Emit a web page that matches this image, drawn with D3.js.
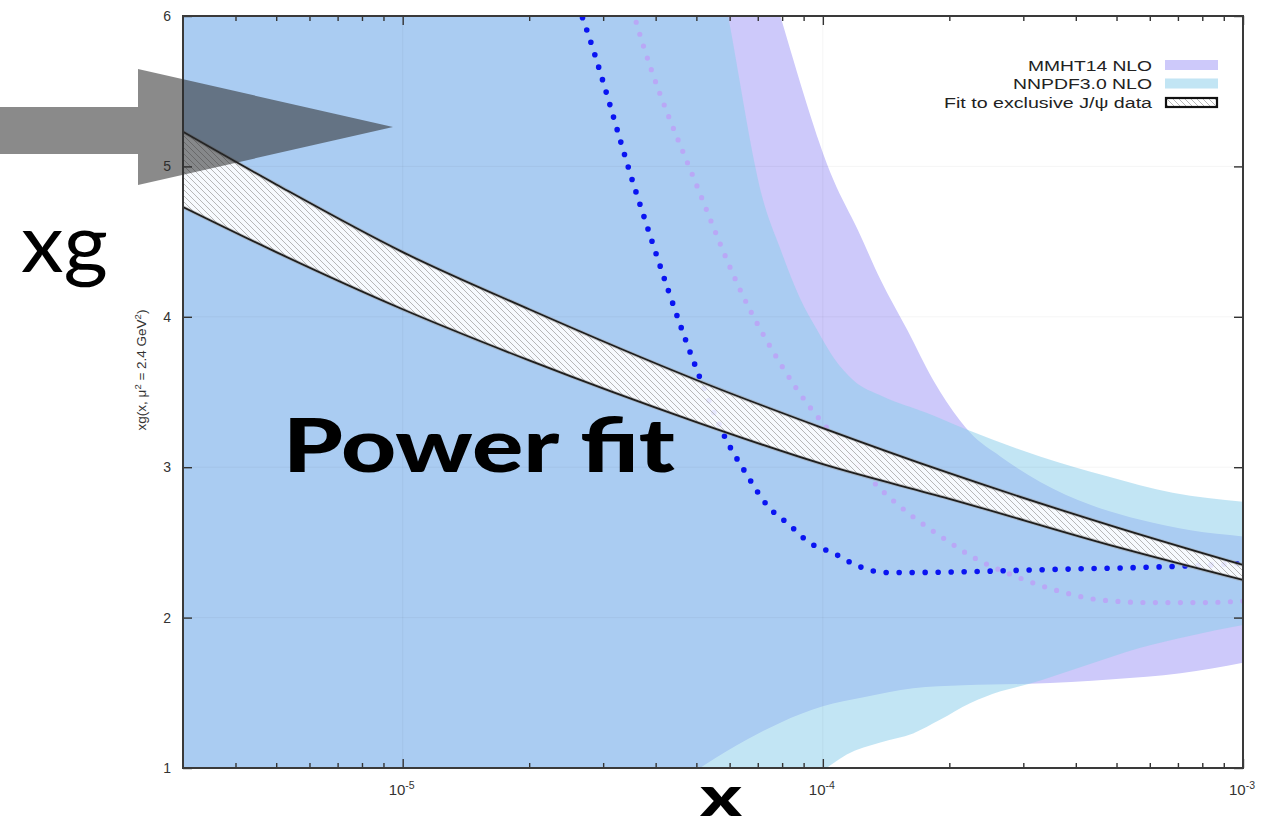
<!DOCTYPE html>
<html>
<head>
<meta charset="utf-8">
<script src="https://cdn.jsdelivr.net/npm/d3@7"></script>
<style>
  html, body { margin: 0; padding: 0; background: #fff; }
  svg { display: block; }
</style>
</head>
<body>
<svg id="chart" width="1285" height="829"></svg>
<script>
// ---- data: [x, xg] pairs ----
const mmhtUpper = [[3e-6, 22], [1e-5, 16], [3e-5, 10.5], [6e-5, 7.2], [7.92e-5, 6.0], [1.06e-4, 4.91],
  [1.21e-4, 4.58], [1.37e-4, 4.25], [1.59e-4, 3.91], [1.83e-4, 3.58], [2.12e-4, 3.31], [2.24e-4, 3.23],
  [2.65e-4, 3.07], [3.3e-4, 2.90], [4.33e-4, 2.75], [5.7e-4, 2.65], [7.5e-4, 2.58], [1e-3, 2.54]];
const mmhtLower = [[3e-6, -1.5], [1e-5, -0.3], [3e-5, 0.5], [5.1e-5, 1.0], [6.6e-5, 1.19], [7.9e-5, 1.30],
  [1.0e-4, 1.41], [1.25e-4, 1.47], [1.64e-4, 1.53], [2.16e-4, 1.55], [3.1e-4, 1.56], [4.9e-4, 1.59],
  [7.1e-4, 1.63], [1e-3, 1.70]];
const nnpdfUpper = [[3e-6, 20], [1e-5, 14], [3e-5, 9.5], [5e-5, 7.1], [5.95e-5, 6.0], [7.2e-5, 4.78],
  [7.9e-5, 4.46], [8.8e-5, 4.13], [9.7e-5, 3.91], [1.06e-4, 3.73], [1.18e-4, 3.58], [1.39e-4, 3.47],
  [1.77e-4, 3.36], [2.2e-4, 3.25], [3.3e-4, 3.07], [4.75e-4, 2.94], [6.8e-4, 2.83], [1e-3, 2.77]];
const nnpdfLower = [[3e-6, -2.5], [3e-5, -0.3], [7e-5, 0.7], [1.02e-4, 1.0], [1.14e-4, 1.09], [1.37e-4, 1.17],
  [1.64e-4, 1.23], [1.9e-4, 1.32], [2.24e-4, 1.43], [2.65e-4, 1.51], [3.1e-4, 1.56], [4.1e-4, 1.67],
  [5.7e-4, 1.80], [7.5e-4, 1.88], [1e-3, 1.95]];
const fitUpper = [[3e-6, 5.23], [5e-6, 4.88], [1e-5, 4.43], [2e-5, 4.05], [5e-5, 3.58], [1e-4, 3.26],
  [2e-4, 2.96], [5e-4, 2.60], [1e-3, 2.35]];
const fitLower = [[3e-6, 4.73], [5e-6, 4.43], [1e-5, 4.05], [2e-5, 3.71], [5e-5, 3.30], [1e-4, 3.02],
  [2e-4, 2.79], [5e-4, 2.47], [1e-3, 2.25]];
const blueCentral = [[2.55e-5, 6.15], [2.67e-5, 6.0], [3.62e-5, 4.80], [5.09e-5, 3.60], [5.87e-5, 3.19],
  [6.56e-5, 2.96], [7.4e-5, 2.74], [8.3e-5, 2.62], [9.27e-5, 2.50], [1.057e-4, 2.43], [1.22e-4, 2.34],
  [1.40e-4, 2.30], [1.62e-4, 2.30], [3.5e-4, 2.32], [6.8e-4, 2.34], [1e-3, 2.36]];
const lavenderCentral = [[3.4e-5, 6.2], [3.56e-5, 6.0], [5.1e-5, 4.82], [6.43e-5, 4.15], [7.92e-5, 3.69],
  [9.43e-5, 3.38], [1.024e-4, 3.26], [1.377e-4, 2.85], [1.623e-4, 2.68], [1.956e-4, 2.52], [2.219e-4, 2.42],
  [2.9e-4, 2.27], [3.61e-4, 2.18], [4.5e-4, 2.12], [6.0e-4, 2.10], [8.0e-4, 2.10], [1e-3, 2.11]];

const xDomain = [3e-6, 1e-3];
const yDomain = [1, 6];
const xMajorTicks = [1e-5, 1e-4, 1e-3];
const xMajorExponents = ["-5", "-4", "-3"];
const yTicks = [1, 2, 3, 4, 5, 6];
const legendLabels = ["MMHT14 NLO", "NNPDF3.0 NLO", "Fit to exclusive J/\u03C8 data"];

// ---- layout ----
const svg = d3.select("#chart");
const L = 183, R = 1243, T = 16, B = 768;
const x = d3.scaleLog().domain(xDomain).range([L, R]);
const y = d3.scaleLinear().domain(yDomain).range([B, T]);

const defs = svg.append("defs");
defs.append("clipPath").attr("id", "plotClip")
  .append("rect").attr("x", L).attr("y", T).attr("width", R - L).attr("height", B - T);

const hatch = defs.append("pattern").attr("id", "hatch")
  .attr("patternUnits", "userSpaceOnUse").attr("width", 6).attr("height", 6);
hatch.append("rect").attr("width", 6).attr("height", 6).attr("fill", "#fff").attr("fill-opacity", 0.9);
hatch.append("path").attr("d", "M0,0L6,6M-1,5L1,7M5,-1L7,1")
  .attr("stroke", "#ababab").attr("stroke-width", 0.85);

const line = d3.line().x(d => x(d[0])).y(d => y(d[1])).curve(d3.curveMonotoneX);
const floorY = y(-40);
function closedDown(arr) {
  const a = arr[0], b = arr[arr.length - 1];
  return line(arr) + `L${x(b[0])},${floorY}L${x(a[0])},${floorY}Z`;
}
function bandPath(upper, lower) { return closedDown(upper) + closedDown(lower); }

const plot = svg.append("g").attr("clip-path", "url(#plotClip)");

// PDF uncertainty bands
const mmhtFill = "rgb(205,201,250)";
const nnpdfFill = "rgb(140,206,234)", nnpdfOpacity = 0.53;
plot.append("path").attr("d", bandPath(mmhtUpper, mmhtLower))
  .attr("fill", mmhtFill).attr("fill-rule", "evenodd");
plot.append("path").attr("d", bandPath(nnpdfUpper, nnpdfLower))
  .attr("fill", nnpdfFill).attr("fill-opacity", nnpdfOpacity).attr("fill-rule", "evenodd");

// faint grid at the major ticks
const grid = plot.append("g").attr("stroke", "rgba(0,0,0,0.045)").attr("stroke-width", 1);
xMajorTicks.forEach(v => grid.append("line").attr("x1", x(v)).attr("x2", x(v)).attr("y1", T).attr("y2", B));
yTicks.forEach(v => grid.append("line").attr("x1", L).attr("x2", R).attr("y1", y(v)).attr("y2", y(v)));

// central values as dotted lines
plot.append("path").attr("d", line(lavenderCentral)).attr("fill", "none")
  .attr("stroke", "#b9a8f6").attr("stroke-width", 5.2).attr("stroke-linecap", "round")
  .attr("stroke-dasharray", "0 12.5");
plot.append("path").attr("d", line(blueCentral)).attr("fill", "none")
  .attr("stroke", "#0a14f2").attr("stroke-width", 5.6).attr("stroke-linecap", "round")
  .attr("stroke-dasharray", "0 13");

// power-law fit band
plot.append("path").attr("d", bandPath(fitUpper, fitLower))
  .attr("fill", "url(#hatch)").attr("fill-rule", "evenodd");
[fitUpper, fitLower].forEach(arr => {
  plot.append("path").attr("d", line(arr)).attr("fill", "none")
    .attr("stroke", "#999").attr("stroke-width", 3.6).attr("stroke-opacity", 0.5);
  plot.append("path").attr("d", line(arr)).attr("fill", "none")
    .attr("stroke", "#1e1e1e").attr("stroke-width", 1.8);
});

// ---- axes (ticks point inward, mirrored on all sides) ----
const minorX = x.ticks().filter(v => v > xDomain[0] && v < xDomain[1] && !xMajorTicks.some(m => Math.abs(m - v) / m < 1e-6));
function styleAxis(g) {
  g.select(".domain").remove();
  g.selectAll(".tick line").attr("stroke", "#333").attr("stroke-width", 1.4);
  g.selectAll(".tick text").remove();
}
svg.append("g").attr("transform", `translate(0,${B})`)
  .call(d3.axisBottom(x).tickValues(minorX).tickSize(-5).tickSizeOuter(0)).call(styleAxis);
svg.append("g").attr("transform", `translate(0,${B})`)
  .call(d3.axisBottom(x).tickValues(xMajorTicks).tickSize(-9).tickSizeOuter(0)).call(styleAxis);
svg.append("g").attr("transform", `translate(0,${T})`)
  .call(d3.axisTop(x).tickValues(minorX).tickSize(-5).tickSizeOuter(0)).call(styleAxis);
svg.append("g").attr("transform", `translate(0,${T})`)
  .call(d3.axisTop(x).tickValues(xMajorTicks).tickSize(-9).tickSizeOuter(0)).call(styleAxis);
svg.append("g").attr("transform", `translate(${L},0)`)
  .call(d3.axisLeft(y).tickValues(yTicks).tickSize(-9).tickSizeOuter(0)).call(styleAxis);
svg.append("g").attr("transform", `translate(${R},0)`)
  .call(d3.axisRight(y).tickValues(yTicks).tickSize(-9).tickSizeOuter(0)).call(styleAxis);

// frame
svg.append("rect").attr("x", L).attr("y", T).attr("width", R - L).attr("height", B - T)
  .attr("fill", "none").attr("stroke", "#3a3a3a").attr("stroke-width", 2);

// tick labels
const tickFont = "'Liberation Sans', Arial, sans-serif";
const yLab = svg.append("g").attr("font-family", tickFont).attr("font-size", 14).attr("fill", "#333");
yTicks.forEach(v => yLab.append("text").attr("x", L - 12).attr("y", y(v) + 5)
  .attr("text-anchor", "end").text(v));
const xLab = svg.append("g").attr("font-family", tickFont).attr("fill", "#333");
xMajorTicks.forEach((v, i) => {
  const t = xLab.append("text").attr("x", x(v) - 1).attr("y", B + 27).attr("text-anchor", "middle")
    .attr("font-size", 15);
  t.append("tspan").text("10");
  t.append("tspan").attr("font-size", 10.5).attr("dy", -6).text(xMajorExponents[i]);
});

// y axis title
const yTitle = svg.append("text").attr("font-family", tickFont).attr("font-size", 13.5).attr("fill", "#333")
  .attr("text-anchor", "middle").attr("transform", `translate(146,370) rotate(-90)`);
yTitle.append("tspan").text("xg(x, \u03BC");
yTitle.append("tspan").attr("font-size", 9.5).attr("dy", -5).text("2");
yTitle.append("tspan").attr("dy", 5).text(" = 2.4 GeV");
yTitle.append("tspan").attr("font-size", 9.5).attr("dy", -5).text("2");
yTitle.append("tspan").attr("dy", 5).text(")");

// legend (key text is set slightly wide, as in the plot's own key)
const legend = svg.append("g").attr("font-family", tickFont).attr("font-size", 15.5).attr("fill", "#222");
const legY = [65, 83.5, 102];
const legWidths = [124, 139, 208];
legendLabels.forEach((lab, i) => legend.append("text").attr("x", 1152 - legWidths[i]).attr("y", legY[i] + 5.5)
  .attr("textLength", legWidths[i]).attr("lengthAdjust", "spacingAndGlyphs").text(lab));
legend.append("rect").attr("x", 1165).attr("y", legY[0] - 5).attr("width", 53).attr("height", 10).attr("fill", mmhtFill);
legend.append("rect").attr("x", 1165).attr("y", legY[1] - 5).attr("width", 53).attr("height", 10)
  .attr("fill", nnpdfFill).attr("fill-opacity", nnpdfOpacity);
legend.append("rect").attr("x", 1166).attr("y", legY[2] - 4).attr("width", 51).attr("height", 9)
  .attr("fill", "url(#hatch)").attr("stroke", "#111").attr("stroke-width", 2.2);

// ---- slide annotations ----
svg.append("polygon")
  .attr("points", [[0, 107], [138, 107], [138, 69], [393, 127], [138, 185], [138, 154], [0, 154]].map(p => p.join(",")).join(" "))
  .attr("fill", "rgb(42,42,42)").attr("fill-opacity", 0.55);

svg.append("text").attr("x", 21).attr("y", 272).attr("font-family", "Lato, 'Open Sans', sans-serif")
  .attr("font-size", 82).attr("fill", "#000")
  .attr("textLength", 87).attr("lengthAdjust", "spacingAndGlyphs").text("xg");

svg.append("text").attr("x", 283).attr("y", 472).attr("font-family", "Lato, 'Open Sans', sans-serif")
  .attr("font-weight", 900).attr("font-size", 75).attr("fill", "#000")
  .attr("textLength", 392).attr("lengthAdjust", "spacingAndGlyphs").text("Power fit");

svg.append("text").attr("x", 700).attr("y", 816).attr("font-family", "Lato, 'Open Sans', sans-serif")
  .attr("font-weight", 900).attr("font-size", 56).attr("fill", "#000")
  .attr("textLength", 42).attr("lengthAdjust", "spacingAndGlyphs").text("x");
</script>
</body>
</html>
